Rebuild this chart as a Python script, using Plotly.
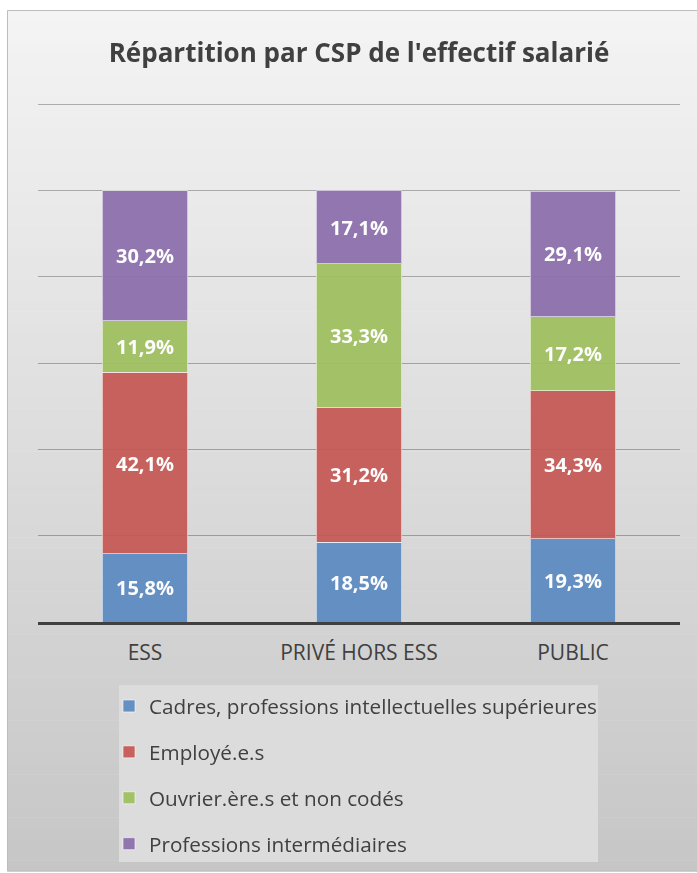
import plotly.graph_objects as go

categories = ["ESS", "PRIVÉ HORS ESS", "PUBLIC"]
series_names = [
    "Cadres, professions intellectuelles supérieures",
    "Employé.e.s",
    "Ouvrier.ère.s et non codés",
    "Professions intermédiaires",
]
cadres = [15.8, 18.5, 19.3]
employes = [42.1, 31.2, 34.3]
ouvriers = [11.9, 33.3, 17.2]
intermediaires = [30.2, 17.1, 29.1]

colors = ["#5b8ac2", "#c45854", "#9fbf5e", "#8b6daa"]

W, H = 697, 873
L, R, T, B = 38, 17, 103, 251
pw, ph = W - L - R, H - T - B


def px_x(x):
    return (x - L) / pw


def px_y(y):
    return (H - B - y) / ph


fig = go.Figure()

for name, vals, col in zip(series_names, [cadres, employes, ouvriers, intermediaires], colors):
    fig.add_trace(go.Bar(
        x=categories,
        y=vals,
        name=name,
        legendgroup=name,
        marker=dict(color=col, line=dict(color="rgba(255,255,255,0.6)", width=1)),
        opacity=0.93,
        text=[f"{v:.1f}%".replace(".", ",") for v in vals],
        textposition="inside",
        insidetextanchor="middle",
        textfont=dict(family="Open Sans", size=20, color="white", weight="bold"),
        hoverinfo="skip",
    ))

# gradient background of the chart frame
shapes = []
top, bottom = 10, 871
n = 80
c0, c1 = (0xf4, 0xf4, 0xf4), (0xc6, 0xc6, 0xc6)
for i in range(n):
    y0 = top + (bottom - top) * i / n
    y1 = top + (bottom - top) * (i + 1) / n
    t = (i + 0.5) / n
    c = tuple(round(a + (b - a) * t) for a, b in zip(c0, c1))
    shapes.append(dict(
        type="rect", xref="paper", yref="paper", layer="below",
        x0=px_x(7), x1=px_x(700), y0=px_y(y0), y1=px_y(y1 + 0.5),
        fillcolor="rgb(%d,%d,%d)" % c, line=dict(width=0),
    ))
shapes.append(dict(
    type="rect", xref="paper", yref="paper", layer="below",
    x0=px_x(7.5), x1=px_x(700), y0=px_y(10.5), y1=px_y(871),
    fillcolor="rgba(0,0,0,0)", line=dict(color="#bdbdbd", width=1),
))
# legend panel
shapes.append(dict(
    type="rect", xref="paper", yref="paper", layer="below",
    x0=px_x(119), x1=px_x(598), y0=px_y(685), y1=px_y(862),
    fillcolor="#dcdcdc", line=dict(width=0),
))

fig.update_layout(
    width=W, height=H,
    margin=dict(l=L, r=R, t=T, b=B, autoexpand=False),
    paper_bgcolor="white",
    plot_bgcolor="rgba(0,0,0,0)",
    barmode="stack",
    bargap=0.6,
    shapes=shapes,
    title=dict(
        text="Répartition par CSP de l'effectif salarié",
        x=0.5, xref="paper", xanchor="center",
        y=1 - 53 / H, yanchor="middle",
        font=dict(family="Open Sans", size=26, color="#404040", weight="bold"),
    ),
    xaxis=dict(
        showgrid=False,
        showline=True, linecolor="#404040", linewidth=3,
        ticks="", ticklabelstandoff=10,
        tickfont=dict(family="Open Sans", size=21, color="#404040"),
        fixedrange=True,
    ),
    yaxis=dict(
        range=[0, 120.3], dtick=20, showticklabels=False,
        showgrid=True, gridcolor="rgba(0,0,0,0.28)", gridwidth=1,
        zeroline=False, fixedrange=True,
    ),
    showlegend=True,
    legend=dict(
        orientation="v",
        x=px_x(109), xanchor="left",
        y=px_y(686), yanchor="top",
        bgcolor="rgba(0,0,0,0)",
        font=dict(family="Open Sans", size=20.7, color="#404040"),
        traceorder="grouped",
        tracegroupgap=16,
        itemwidth=30,
    ),
    uniformtext=dict(minsize=10, mode="show"),
)

fig.write_html(
    "out.html",
    config={"displayModeBar": False},
    post_script="document.body.style.margin='0';",
)
